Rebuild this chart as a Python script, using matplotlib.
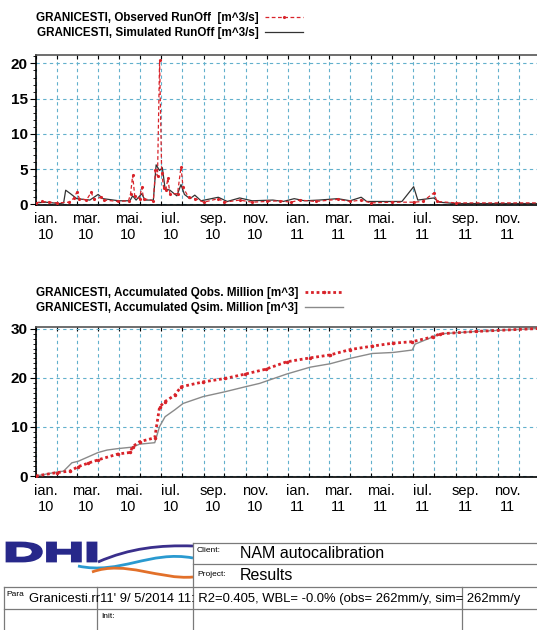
import numpy as np
import pandas as pd
import matplotlib
matplotlib.use("Agg")
import matplotlib.pyplot as plt
import matplotlib.dates as mdates
from matplotlib.ticker import NullFormatter, MultipleLocator
from matplotlib.lines import Line2D
from matplotlib.patches import PathPatch
from matplotlib.path import Path
from matplotlib.textpath import TextPath
from matplotlib.font_manager import FontProperties
from matplotlib.transforms import Affine2D, IdentityTransform

plt.rcParams['font.family'] = ['Liberation Sans', 'DejaVu Sans']

# --- data ---
obs_dates = ["2010-01-01", "2010-01-10", "2010-01-20", "2010-02-01", "2010-02-18", "2010-02-25",
             "2010-03-01", "2010-03-05", "2010-03-15", "2010-03-22", "2010-03-26", "2010-04-05",
             "2010-04-10", "2010-04-30", "2010-05-15", "2010-05-18", "2010-05-21", "2010-05-24",
             "2010-05-31", "2010-06-03", "2010-06-06", "2010-06-20", "2010-06-23", "2010-06-26",
             "2010-06-29", "2010-07-02", "2010-07-05", "2010-07-08", "2010-07-11", "2010-07-14",
             "2010-07-25", "2010-07-30", "2010-08-02", "2010-08-10", "2010-08-20", "2010-09-01",
             "2010-09-22", "2010-10-01", "2010-10-23", "2010-11-10", "2010-12-01", "2010-12-20",
             "2011-01-05", "2011-01-18", "2011-02-10", "2011-03-14", "2011-04-01", "2011-04-17",
             "2011-05-01", "2011-06-01", "2011-07-02", "2011-07-15", "2011-07-31", "2011-08-05",
             "2011-09-01", "2011-12-31"]
obs_runoff = [0.2, 0.4, 0.3, 0.2, 0.3, 0.9,
              1.7, 0.8, 0.6, 1.7, 0.7, 1.0,
              0.6, 0.4, 0.5, 1.5, 4.1, 1.2,
              0.8, 2.4, 0.8, 0.5, 4.8, 4.0,
              20.5, 4.5, 2.3, 2.0, 3.7, 1.5,
              1.5, 5.3, 2.4, 1.0, 0.8, 0.3,
              0.8, 0.3, 0.6, 0.3, 0.4, 0.5,
              0.3, 0.6, 0.4, 0.7, 0.4, 0.6,
              0.2, 0.3, 0.3, 0.4, 1.6, 0.4,
              0.2, 0.2]

sim_dates = ["2010-01-01", "2010-01-15", "2010-02-05", "2010-02-10", "2010-02-13", "2010-02-20",
             "2010-03-01", "2010-03-20", "2010-04-01", "2010-04-08", "2010-05-01", "2010-05-17",
             "2010-05-21", "2010-05-26", "2010-06-03", "2010-06-08", "2010-06-20", "2010-06-24",
             "2010-06-29", "2010-07-03", "2010-07-07", "2010-07-14", "2010-07-24", "2010-07-30",
             "2010-08-04", "2010-08-12", "2010-08-19", "2010-08-28", "2010-09-22", "2010-10-05",
             "2010-10-23", "2010-11-10", "2010-12-10", "2010-12-25", "2011-01-10", "2011-01-25",
             "2011-02-15", "2011-03-14", "2011-04-01", "2011-04-17", "2011-04-25", "2011-06-15",
             "2011-07-02", "2011-07-08", "2011-07-31", "2011-08-08", "2011-09-01", "2011-12-31"]
sim_runoff = [0.2, 0.3, 0.1, 0.2, 2.0, 1.5,
              0.8, 0.6, 1.4, 0.8, 0.5, 0.5,
              1.2, 0.6, 1.5, 0.6, 0.6, 5.6,
              4.8, 5.2, 2.2, 2.0, 1.2, 2.8,
              1.4, 0.8, 1.3, 0.5, 1.0, 0.4,
              0.9, 0.5, 0.6, 0.4, 0.8, 0.5,
              0.6, 0.8, 0.5, 1.0, 0.4, 0.4,
              2.5, 0.6, 0.9, 0.3, 0.1, 0.1]

acc_obs_dates = ["2010-01-01", "2010-01-31", "2010-02-19", "2010-03-03", "2010-03-17", "2010-04-01",
                 "2010-04-30", "2010-05-17", "2010-05-21", "2010-05-31", "2010-06-22", "2010-06-29",
                 "2010-07-07", "2010-07-21", "2010-07-30", "2010-08-31", "2010-10-02", "2010-10-31",
                 "2010-11-30", "2010-12-30", "2011-02-02", "2011-03-03", "2011-04-01", "2011-05-03",
                 "2011-06-02", "2011-06-30", "2011-07-30", "2011-08-09", "2011-10-01", "2011-12-31"]
acc_obs = [0.0, 0.7, 1.0, 1.9, 2.6, 3.3,
           4.5, 4.8, 6.0, 7.0, 7.8, 14.1,
           15.2, 16.5, 18.2, 19.2, 19.9, 20.8,
           21.8, 23.3, 24.1, 24.7, 25.8, 26.5,
           27.1, 27.4, 28.4, 29.0, 29.5, 30.1]

acc_sim_dates = ["2010-01-01", "2010-01-31", "2010-02-10", "2010-02-22", "2010-03-03", "2010-04-01",
                 "2010-04-14", "2010-04-30", "2010-05-21", "2010-05-31", "2010-06-22", "2010-06-29",
                 "2010-07-07", "2010-07-21", "2010-08-02", "2010-08-31", "2010-10-02", "2010-10-31",
                 "2010-11-21", "2010-12-30", "2011-02-02", "2011-03-03", "2011-04-01", "2011-05-03",
                 "2011-06-02", "2011-06-30", "2011-07-04", "2011-07-30", "2011-08-09", "2011-10-01",
                 "2011-12-31"]
acc_sim = [0.0, 0.8, 1.0, 2.7, 3.0, 4.8,
           5.3, 5.6, 5.9, 6.5, 6.8, 10.1,
           12.1, 13.5, 14.8, 16.2, 17.2, 18.2,
           18.9, 20.8, 22.2, 22.9, 24.0, 25.0,
           25.2, 25.7, 26.9, 28.4, 29.0, 29.5,
           30.1]

label_dates = ["2010-01-15", "2010-03-15", "2010-05-15", "2010-07-15", "2010-09-15", "2010-11-15",
               "2011-01-15", "2011-03-15", "2011-05-15", "2011-07-15", "2011-09-15", "2011-11-15"]
tick_labels = ["ian.\n10", "mar.\n10", "mai.\n10", "iul.\n10", "sep.\n10", "nov.\n10",
               "ian.\n11", "mar.\n11", "mai.\n11", "iul.\n11", "sep.\n11", "nov.\n11"]

legend_top = ["GRANICESTI, Observed RunOff  [m^3/s]", "GRANICESTI, Simulated RunOff [m^3/s]"]
legend_bot = ["GRANICESTI, Accumulated Qobs. Million [m^3]", "GRANICESTI, Accumulated Qsim. Million [m^3]"]

RED = "#d8232a"
GRID = "#62b0cc"
W, H = 537, 630

fig = plt.figure(figsize=(W / 100, H / 100), dpi=100)


def fx(px):
    return px / W


def fy(py):
    return 1 - py / H


def setup_axis(ax, ystep):
    ax.set_xlim(pd.Timestamp("2010-01-01"), pd.Timestamp("2012-01-01"))
    ax.xaxis.set_major_locator(mdates.MonthLocator())
    ax.xaxis.set_major_formatter(NullFormatter())
    ax.set_xticks(pd.to_datetime(label_dates), tick_labels, minor=True)
    ax.tick_params(axis='x', which='major', direction='in', length=3, top=True, bottom=True)
    ax.tick_params(axis='x', which='minor', length=0, pad=5, labelsize=10.5)
    ax.yaxis.set_major_locator(MultipleLocator(ystep))
    ax.yaxis.set_minor_locator(MultipleLocator(1))
    ax.tick_params(axis='y', which='major', length=4, labelsize=11, pad=2)
    ax.tick_params(axis='y', which='minor', length=2)
    for t in ax.get_yticklabels():
        t.set_fontweight('bold')
    ax.grid(True, which='major', color=GRID, linestyle=(0, (3, 3)), linewidth=0.8)
    for s in ax.spines.values():
        s.set_linewidth(1.2)
    ax.spines['top'].set_color('#555555')


# top panel: runoff
ax1 = fig.add_axes([fx(36), fy(205), fx(504), 150 / H])
ax1.plot(pd.to_datetime(sim_dates), sim_runoff, color='#333333', lw=0.9, label=legend_top[1], zorder=3)
ax1.plot(pd.to_datetime(obs_dates), obs_runoff, color=RED, lw=0.9, ls=(0, (3, 2)),
         marker='.', ms=2.5, label=legend_top[0], zorder=4)
ax1.set_ylim(-0.1, 21.2)
setup_axis(ax1, 5)

# bottom panel: accumulated
ax2 = fig.add_axes([fx(36), fy(477), fx(504), 150 / H])
ax2.plot(pd.to_datetime(acc_sim_dates), acc_sim, color='#8a8a8a', lw=1.0, label=legend_bot[1], zorder=3)
ax2.plot(pd.to_datetime(acc_obs_dates), acc_obs, color=RED, lw=2.0, ls=(0, (1, 1)),
         marker='.', ms=3, label=legend_bot[0], zorder=4)
ax2.set_ylim(-0.2, 30.4)
setup_axis(ax2, 10)

# legends above each panel, sample after the text
for ax, y0 in [(ax1, 6), (ax2, 281)]:
    h, l = ax.get_legend_handles_labels()
    fig.legend(h[::-1], l[::-1], loc='upper left', bbox_to_anchor=(fx(30), fy(y0)),
               frameon=False, markerfirst=False, handlelength=3.2, handletextpad=0.6,
               labelspacing=0.28, borderpad=0, prop={'weight': 'bold', 'size': 8.4})

# --- footer: logo and title block ---
fp = FontProperties(family='Liberation Sans', weight='bold')
tp = TextPath((0, 0), "DHI", size=20, prop=fp)
bb = tp.get_extents()
sx = 89 / bb.width
sy = 18 / bb.height
logo = PathPatch(tp, fc='#27288a', ec='#27288a', lw=2.0,
                 transform=Affine2D().translate(-bb.x0, -bb.y0).scale(sx, sy).translate(7, H - 561) + IdentityTransform())
fig.add_artist(logo)


def swoosh(pts, color, lw):
    verts = [(x, H - y) for x, y in pts]
    codes = [Path.MOVETO] + [Path.CURVE4] * (len(verts) - 1)
    fig.add_artist(PathPatch(Path(verts, codes), fc='none', ec=color, lw=lw,
                             transform=IdentityTransform()))


swoosh([(98, 562), (130, 548), (160, 545), (193, 546)], '#3a2f8c', 2.0)
swoosh([(78, 566), (120, 575), (150, 550), (193, 558)], '#2a9ad0', 2.0)
swoosh([(92, 572), (125, 560), (160, 580), (193, 577)], '#e2702a', 2.0)

line_kw = dict(color='#7a7a7a', lw=0.9, transform=fig.transFigure)


def hline(x0, x1, y):
    fig.add_artist(Line2D([fx(x0), fx(x1)], [fy(y), fy(y)], **line_kw))


def vline(x, y0, y1):
    fig.add_artist(Line2D([fx(x), fx(x)], [fy(y0), fy(y1)], **line_kw))


hline(193, 537, 543)
hline(193, 537, 564)
hline(4, 537, 587)
hline(4, 537, 609)
vline(193, 543, 630)
vline(4, 587, 630)
vline(97, 587, 630)
vline(462, 587, 630)

fig.text(fx(197), fy(551), "Client:", fontsize=6, va='center')
fig.text(fx(240), fy(553), "NAM autocalibration", fontsize=11.5, va='center')
fig.text(fx(197), fy(574), "Project:", fontsize=6, va='center')
fig.text(fx(240), fy(576), "Results", fontsize=11.5, va='center')
fig.text(fx(6), fy(594), "Para", fontsize=6, va='center')
fig.text(fx(29), fy(599), "Granicesti.rr11' 9/ 5/2014 11: R2=0.405, WBL= -0.0% (obs= 262mm/y, sim= 262mm/y",
         fontsize=9.4, va='center')
fig.text(fx(101), fy(617), "Init:", fontsize=6, va='center')

fig.savefig("out.png", dpi=100)
